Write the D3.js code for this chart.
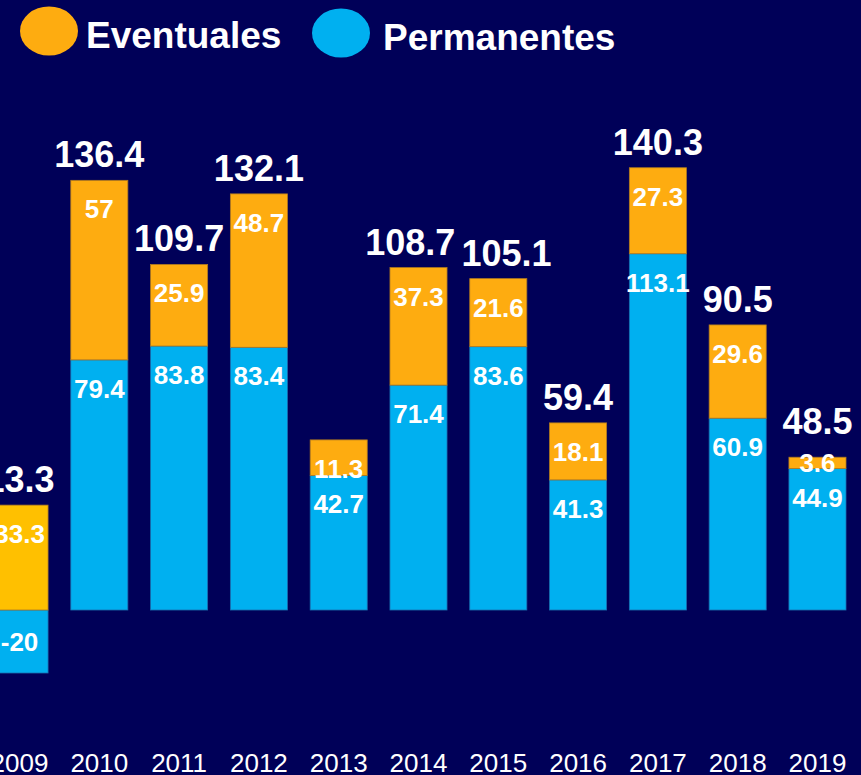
<!DOCTYPE html>
<html>
<head>
<meta charset="utf-8">
<script src="https://cdn.jsdelivr.net/npm/d3@7"></script>
<style>
  html, body { margin: 0; padding: 0; background: #000058; overflow: hidden; }
  svg { display: block; font-family: "Liberation Sans", Arial, sans-serif; }
</style>
</head>
<body>
<div id="chart"></div>
<script>
const years = ['2009', '2010', '2011', '2012', '2013', '2014', '2015', '2016', '2017', '2018', '2019'];
const permanentes = [-20, 79.4, 83.8, 83.4, 42.7, 71.4, 83.6, 41.3, 113.1, 60.9, 44.9];
const eventuales = [33.3, 57, 25.9, 48.7, 11.3, 37.3, 21.6, 18.1, 27.3, 29.6, 3.6];
const totals = [13.3, 136.4, 109.7, 132.1, null, 108.7, 105.1, 59.4, 140.3, 90.5, 48.5];
const seriesNames = ['Eventuales', 'Permanentes'];

const W = 861, H = 775;
const COLORS = { eventuales: '#FEAC10', eventuales2009: '#FFC000', permanentes: '#00B0F0', bg: '#000058' };
const SEG_FONT = 26, CAP = 0.72;

const svg = d3.select('#chart').append('svg')
  .attr('width', W).attr('height', H);

svg.append('rect').attr('width', W).attr('height', H).attr('fill', COLORS.bg);

const x = d3.scaleBand()
  .domain(years)
  .range([-9, 846])
  .paddingInner(0.285)
  .paddingOuter(0);

const y = d3.scaleLinear().domain([-20, 140]).range([673, 169]);

// segments: permanentes from 0, eventuales stacked on the positive part
const segs = [];
years.forEach((yr, i) => {
  const p = permanentes[i], e = eventuales[i];
  const base = Math.max(p, 0);
  segs.push({ yr, key: 'permanentes', v: p, y0: Math.min(0, p), y1: Math.max(0, p) });
  segs.push({ yr, key: 'eventuales', v: e, y0: base, y1: base + e });
});

// label baseline inside a segment: near top, or centred if the segment is small/negative
function segLabelY(d) {
  const top = y(d.y1), bot = y(d.y0);
  if (d.v < 0 || bot - top < 24) return (top + bot) / 2 + SEG_FONT * CAP / 2;
  return top + 38;
}

const g = svg.append('g');

g.selectAll('rect.seg')
  .data(segs)
  .join('rect')
  .attr('class', 'seg')
  .attr('x', d => x(d.yr))
  .attr('width', x.bandwidth())
  .attr('y', d => y(d.y1))
  .attr('height', d => y(d.y0) - y(d.y1))
  .attr('fill', d => d.key === 'permanentes' ? COLORS.permanentes
    : (d.yr === '2009' ? COLORS.eventuales2009 : COLORS.eventuales))
  .attr('stroke', d => d.key === 'permanentes' ? '#1a6fb0' : '#b07a20')
  .attr('stroke-width', 0.8);

g.selectAll('text.seglabel')
  .data(segs)
  .join('text')
  .attr('class', 'seglabel')
  .attr('x', d => x(d.yr) + x.bandwidth() / 2)
  .attr('y', segLabelY)
  .attr('text-anchor', 'middle')
  .attr('fill', '#fff')
  .attr('font-weight', 'bold')
  .attr('font-size', SEG_FONT)
  .text(d => d.v);

// totals above each bar, kept clear of the top segment's label
const totalData = years.map((yr, i) => {
  const topSeg = segs[i * 2 + 1];
  const capTop = segLabelY(topSeg) - SEG_FONT * CAP;
  return { yr, t: totals[i], cx: x(yr) + x.bandwidth() / 2, yy: Math.min(y(topSeg.y1) - 13, capTop - 20) };
}).filter(d => d.t !== null);

const totalText = g.selectAll('text.total')
  .data(totalData)
  .join('text')
  .attr('class', 'total')
  .attr('x', d => d.cx)
  .attr('y', d => d.yy)
  .attr('text-anchor', 'middle')
  .attr('fill', '#fff')
  .attr('font-weight', 'bold')
  .attr('font-size', 36)
  .text(d => d.t);

// push apart neighbouring totals that collide
const nodes = totalText.nodes();
for (let i = 0; i < nodes.length - 1; i++) {
  const a = nodes[i].getBBox(), b = nodes[i + 1].getBBox();
  const vOverlap = a.y < b.y + b.height && b.y < a.y + a.height;
  const over = a.x + a.width + 6 - b.x;
  if (vOverlap && over > 0) {
    const da = d3.select(nodes[i]).datum(), db = d3.select(nodes[i + 1]).datum();
    da.cx -= over / 2; db.cx += over / 2;
    d3.select(nodes[i]).attr('x', da.cx);
    d3.select(nodes[i + 1]).attr('x', db.cx);
  }
}

// x axis labels
const xAxis = svg.append('g')
  .attr('transform', 'translate(0,772)')
  .call(d3.axisBottom(x).tickSize(0).tickPadding(0));
xAxis.select('.domain').remove();
xAxis.selectAll('text')
  .attr('y', 0).attr('dy', 0)
  .attr('fill', '#fff')
  .attr('font-size', 26)
  .attr('font-family', '"Liberation Sans", Arial, sans-serif');

// legend
const legend = svg.append('g');
const legendItems = [
  { name: seriesNames[0], color: COLORS.eventuales, cx: 49, cy: 31, tx: 86, ty: 48 },
  { name: seriesNames[1], color: COLORS.permanentes, cx: 341, cy: 33, tx: 383, ty: 50 }
];
legendItems.forEach(d => {
  legend.append('ellipse')
    .attr('cx', d.cx).attr('cy', d.cy)
    .attr('rx', 29).attr('ry', 24.5)
    .attr('fill', d.color);
  legend.append('text')
    .attr('x', d.tx).attr('y', d.ty)
    .attr('fill', '#fff')
    .attr('font-weight', 'bold')
    .attr('font-size', 37)
    .text(d.name);
});
</script>
</body>
</html>
